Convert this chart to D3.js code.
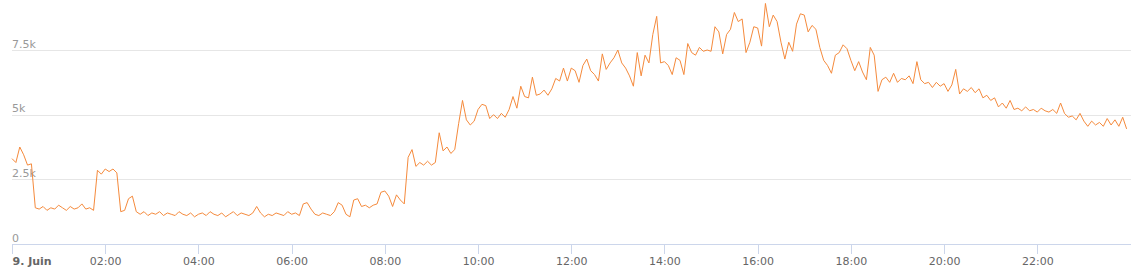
<!DOCTYPE html>
<html>
<head>
<meta charset="utf-8">
<script src="https://cdn.jsdelivr.net/npm/d3@7"></script>
<style>
  html, body { margin: 0; padding: 0; background: #fff; }
  svg { display: block; font-family: "DejaVu Sans", sans-serif; }
</style>
</head>
<body>
<svg id="chart" width="1139" height="276"></svg>
<script>
// one reading every 5 minutes, starting 9 June 00:00
let startTime = new Date(2019, 5, 9, 0, 0);
let endTime = new Date(2019, 5, 10, 0, 0);
let stepMinutes = 5;

let values00to04 = [3300, 3150, 3750, 3450, 3050, 3100, 1400, 1350, 1450, 1300, 1400, 1350, 1500, 1400, 1300, 1450,
    1350, 1400, 1550, 1350, 1400, 1300, 2850, 2700, 2900, 2800, 2900, 2750, 1250, 1300, 1750, 1850,
    1250, 1150, 1250, 1100, 1200, 1150, 1250, 1100, 1200, 1150, 1100, 1250, 1150, 1100, 1200, 1050];
let values04to08 = [1150, 1200, 1100, 1250, 1150, 1100, 1200, 1050, 1150, 1250, 1100, 1200, 1150, 1100, 1200, 1450,
    1200, 1050, 1150, 1100, 1200, 1150, 1100, 1250, 1150, 1200, 1100, 1550, 1600, 1350, 1150, 1100,
    1200, 1150, 1100, 1250, 1600, 1500, 1150, 1050, 1700, 1750, 1450, 1500, 1400, 1500, 1550, 2000];
let values08to12 = [2050, 1850, 1450, 1900, 1700, 1550, 3350, 3650, 3000, 3150, 3050, 3200, 3050, 3150, 4300, 3600,
    3750, 3500, 3650, 4650, 5550, 4800, 4600, 4750, 5200, 5400, 5350, 4850, 5000, 4850, 5050, 4900,
    5200, 5700, 5250, 6100, 5700, 5650, 6450, 5750, 5800, 5950, 5750, 6000, 6400, 6300, 6800, 6300];
let values12to16 = [6800, 6700, 6250, 6900, 7150, 6700, 6550, 6300, 7350, 6750, 7000, 7200, 7500, 7000, 6800, 6500,
    6100, 7400, 6500, 7300, 7000, 8100, 8800, 7000, 7050, 6900, 6550, 7200, 7100, 6550, 7750, 7400,
    7300, 7600, 7450, 7500, 7450, 8400, 8200, 7350, 8100, 8300, 8950, 8600, 8700, 7400, 7800, 8400];
let values16to20 = [8350, 7650, 9300, 8400, 8850, 8600, 7800, 7150, 7800, 7450, 8500, 8900, 8850, 8200, 8450, 8300,
    7600, 7100, 6900, 6600, 7300, 7400, 7700, 7550, 7100, 6700, 7050, 6650, 6350, 7600, 7300, 5900,
    6350, 6450, 6250, 6600, 6250, 6400, 6350, 6500, 6200, 7050, 6350, 6200, 6250, 6050, 6250, 6100];
let values20to24 = [6200, 5900, 6150, 6750, 5800, 6000, 5900, 6050, 5850, 6000, 5650, 5750, 5550, 5650, 5300, 5450,
    5250, 5550, 5200, 5250, 5150, 5300, 5150, 5200, 5100, 5250, 5150, 5100, 5200, 5050, 5450, 5050,
    4900, 4950, 4800, 5050, 4750, 4550, 4750, 4600, 4700, 4550, 4850, 4600, 4800, 4550, 4900, 4450];

let yTickValues = [0, 2500, 5000, 7500];
let yTickLabels = ["0", "2.5k", "5k", "7.5k"];
let xTickHours = [0, 2, 4, 6, 8, 10, 12, 14, 16, 18, 20, 22];
let xTickLabels = ["9. Juin", "02:00", "04:00", "06:00", "08:00", "10:00", "12:00", "14:00", "16:00", "18:00", "20:00", "22:00"];

let lineColor = "#f58a3c";
let gridColor = "#e6e6e6";
let axisColor = "#ccd6eb";

let allValues = values00to04.concat(values04to08, values08to12, values12to16, values16to20, values20to24);
let data = allValues.map(function(v, i) {
    return { time: new Date(startTime.getTime() + i * stepMinutes * 60000), value: v };
});

let svg = d3.select("#chart");
let plotLeft = 12, plotRight = 1131;
let plotBottom = 244;

let xScale = d3.scaleTime()
    .domain([startTime, endTime])
    .range([plotLeft, plotRight - 0.5]);

let yScale = d3.scaleLinear()
    .domain([0, 7500])
    .range([plotBottom, 50]);

// horizontal grid lines, labels sit just above them
let yAxis = svg.append("g")
    .attr("transform", "translate(" + plotLeft + ",0)")
    .call(d3.axisRight(yScale)
        .tickValues(yTickValues)
        .tickSize(plotRight - plotLeft)
        .tickFormat(function(d, i) { return yTickLabels[i]; }));
yAxis.select(".domain").remove();
yAxis.selectAll(".tick line")
    .attr("stroke", gridColor)
    .attr("shape-rendering", "crispEdges");
yAxis.selectAll(".tick text")
    .attr("x", 0)
    .attr("y", -3)
    .attr("dy", null)
    .attr("text-anchor", "start")
    .style("font-family", "DejaVu Sans, sans-serif")
    .style("font-size", "11px")
    .attr("fill", "#999999");

// the series
let line = d3.line()
    .x(function(d) { return xScale(d.time); })
    .y(function(d) { return yScale(d.value); });

svg.append("path")
    .datum(data)
    .attr("d", line)
    .attr("fill", "none")
    .attr("stroke", lineColor)
    .attr("stroke-width", 1)
    .attr("stroke-linejoin", "round");

// x axis
let xTicks = xTickHours.map(function(h) { return new Date(2019, 5, 9, h, 0); });
let xAxis = svg.append("g")
    .attr("transform", "translate(0," + plotBottom + ")")
    .call(d3.axisBottom(xScale)
        .tickValues(xTicks)
        .tickSize(10)
        .tickSizeOuter(0)
        .tickFormat(function(d, i) { return xTickLabels[i]; }));
xAxis.select(".domain")
    .attr("stroke", axisColor)
    .attr("d", "M" + plotLeft + ",0.5H" + plotRight);
xAxis.selectAll(".tick line")
    .attr("stroke", axisColor)
    .attr("shape-rendering", "crispEdges");
xAxis.selectAll(".tick text")
    .attr("y", 13)
    .attr("dy", "0.71em")
    .style("font-family", "DejaVu Sans, sans-serif")
    .style("font-size", "11px")
    .attr("fill", "#666666");
xAxis.selectAll(".tick").filter(function(d, i) { return i === 0; })
    .select("text")
    .attr("text-anchor", "start")
    .style("font-weight", "bold");
</script>
</body>
</html>
